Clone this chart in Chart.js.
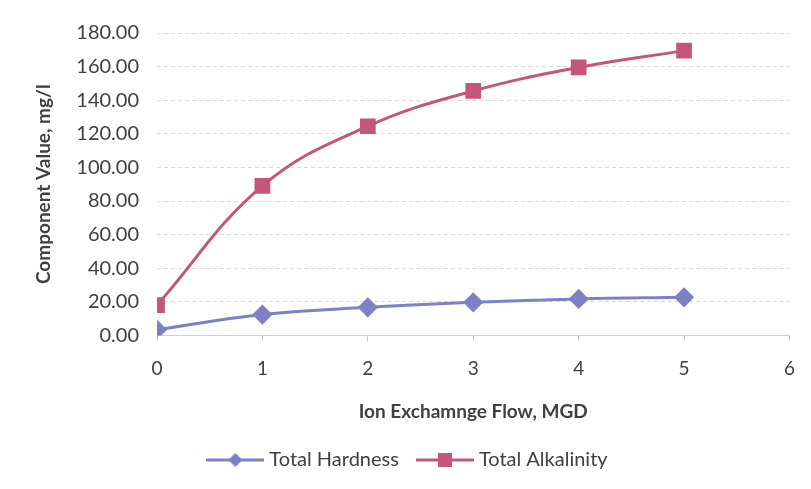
<!DOCTYPE html>
<html><head><meta charset="utf-8">
<script src="https://cdn.jsdelivr.net/npm/chart.js@4.4.1/dist/chart.umd.min.js"></script>
<style>html,body{margin:0;padding:0;background:#fff}#wrap{width:811px;height:489px}</style>
</head><body><div id="wrap"><canvas id="c" width="811" height="489"></canvas></div>
<script>
const flow = [0, 1, 2, 3, 4, 5];
const totalHardness = [3.4, 12.4, 16.7, 19.7, 21.7, 22.7];
const totalAlkalinity = [18, 89, 124.5, 145.5, 159.5, 169.5];
const xTicks = [0, 1, 2, 3, 4, 5, 6];
const yTicks = [0, 20, 40, 60, 80, 100, 120, 140, 160, 180];
const seriesNames = ['Total Hardness', 'Total Alkalinity'];

const hardCol = '#7E80C6';
const alkCol = '#C4567A';
const FONT = 'Lato, "Open Sans", sans-serif';

function legendIcon(color, style) {
  const cv = document.createElement('canvas');
  cv.width = 58; cv.height = 16;
  const g = cv.getContext('2d');
  g.strokeStyle = color; g.lineWidth = 3;
  g.beginPath(); g.moveTo(0, 8); g.lineTo(58, 8); g.stroke();
  g.fillStyle = color;
  if (style === 'diamond') {
    g.beginPath(); g.moveTo(29, 1); g.lineTo(36, 8); g.lineTo(29, 15); g.lineTo(22, 8); g.closePath(); g.fill();
  } else {
    g.fillRect(22, 1, 14, 14);
  }
  return cv;
}
const icons = [legendIcon(hardCol, 'diamond'), legendIcon(alkCol, 'square')];

const ctx = document.getElementById('c').getContext('2d');
new Chart(ctx, {
  type: 'scatter',
  data: {
    datasets: [
      {
        label: seriesNames[0],
        data: flow.map((x, i) => ({x, y: totalHardness[i]})),
        showLine: true, tension: 0.4,
        borderColor: hardCol, backgroundColor: hardCol, borderWidth: 3,
        pointStyle: 'rectRot', pointRadius: 8, pointHoverRadius: 8
      },
      {
        label: seriesNames[1],
        data: flow.map((x, i) => ({x, y: totalAlkalinity[i]})),
        showLine: true, tension: 0.4,
        borderColor: alkCol, backgroundColor: alkCol, borderWidth: 3,
        pointStyle: 'rect', pointRadius: 9, pointHoverRadius: 9
      }
    ]
  },
  options: {
    responsive: false, animation: false,
    layout: { padding: { top: 33, right: 20, left: 28, bottom: 9 } },
    plugins: {
      tooltip: { enabled: false },
      legend: {
        position: 'bottom',
        labels: {
          usePointStyle: true,
          pointStyleWidth: 48,
          color: '#404040',
          font: { family: FONT, size: 20 },
          padding: 22,
          generateLabels: (chart) => chart.data.datasets.map((d, i) => ({
            text: d.label, pointStyle: icons[i], fillStyle: d.borderColor,
            strokeStyle: d.borderColor, lineWidth: 0, datasetIndex: i, fontColor: '#404040'
          }))
        }
      }
    },
    scales: {
      x: {
        type: 'linear', min: 0, max: 6,
        afterBuildTicks: (s) => { s.ticks = xTicks.map(v => ({value: v})); },
        ticks: { color: '#404040', font: { family: FONT, size: 19 }, padding: 16 },
        grid: { display: true, drawOnChartArea: false, drawTicks: true, tickLength: 6, color: '#c8c8c8' },
        border: { color: '#d0d0d0' },
        title: { display: true, text: 'Ion Exchamnge Flow, MGD', color: '#404040',
                 font: { family: FONT, size: 19, weight: 'bold' }, padding: { top: 4, bottom: 5 } }
      },
      y: {
        min: 0, max: 180,
        afterBuildTicks: (s) => { s.ticks = yTicks.map(v => ({value: v})); },
        afterFit: (s) => { s.width = 129; },
        ticks: { color: '#404040', font: { family: FONT, size: 20 }, padding: 18,
                 callback: (v) => Number(v).toFixed(2) },
        grid: { color: '#dadada', tickLength: 0, drawTicks: false },
        border: { display: false, dash: [4, 3] },
        title: { display: true, text: 'Component Value, mg/l', color: '#404040',
                 font: { family: FONT, size: 19, weight: 'bold' }, padding: { bottom: 6 } }
      }
    }
  }
});
</script></body></html>
